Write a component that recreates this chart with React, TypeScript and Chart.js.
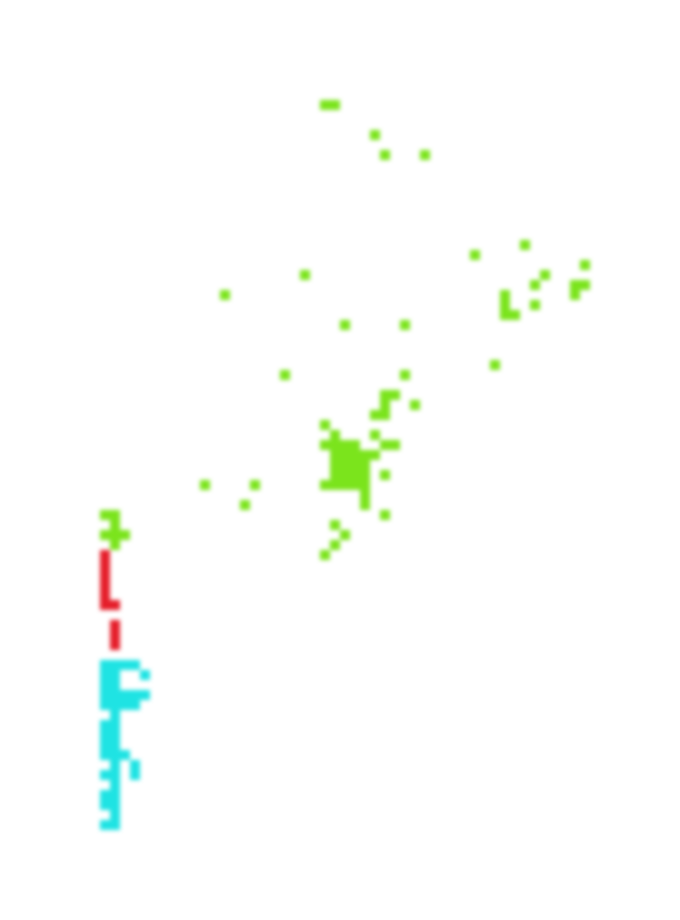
import React, { useEffect, useRef } from "react";
import { Chart, registerables } from "chart.js";

Chart.register(...registerables);

// Grid cells (column, row)
const greenCells: [number, number][] = [
  [32, 10], [33, 10], [37, 13], [38, 15], [42, 15],
  [52, 24], [47, 25], [58, 26], [30, 27], [54, 27], [53, 28], [57, 28], [58, 28],
  [22, 29], [50, 29], [57, 29], [50, 30], [53, 30], [50, 31], [51, 31],
  [34, 32], [40, 32], [49, 36], [28, 37], [40, 37],
  [38, 39], [39, 39], [38, 40], [41, 40], [37, 41], [38, 41],
  [32, 42], [33, 43], [37, 43],
  [32, 44], [33, 44], [34, 44], [35, 44], [38, 44], [39, 44],
  [33, 45], [34, 45], [35, 45], [36, 45], [37, 45],
  [33, 46], [34, 46], [35, 46], [36, 46],
  [33, 47], [34, 47], [35, 47], [36, 47], [38, 47],
  [20, 48], [25, 48], [32, 48], [33, 48], [34, 48], [35, 48], [36, 48],
  [36, 49], [24, 50], [36, 50], [38, 51],
  [33, 52], [34, 53], [33, 54], [32, 55],
  [10, 51], [11, 51], [11, 52], [10, 53], [11, 53], [12, 53], [11, 54],
];

const redCells: [number, number][] = [
  [10, 55], [10, 56], [10, 57], [10, 58], [10, 59], [10, 60], [11, 60],
  [11, 62], [11, 63], [11, 64],
];

const cyanCells: [number, number][] = [
  [10, 66], [11, 66], [12, 66], [13, 66],
  [10, 67], [11, 67], [14, 67],
  [10, 68], [11, 68],
  [10, 69], [11, 69], [12, 69], [13, 69], [14, 69],
  [10, 70], [11, 70], [12, 70], [13, 70],
  [11, 71],
  [10, 72], [11, 72],
  [10, 73], [11, 73],
  [10, 74], [11, 74],
  [10, 75], [11, 75], [12, 75],
  [11, 76], [13, 76],
  [10, 77], [11, 77], [13, 77],
  [11, 78],
  [10, 79], [11, 79],
  [10, 80], [11, 80],
  [11, 81],
  [10, 82], [11, 82],
];

const GRID_COLS = 68;
const GRID_ROWS = 92;

const toPoints = (cells: [number, number][]) => cells.map(([x, y]) => ({ x, y }));

export default function App() {
  const ref = useRef<HTMLCanvasElement | null>(null);

  useEffect(() => {
    document.body.style.margin = "0";
    const canvas = ref.current;
    if (!canvas) return;
    const cell = 680 / GRID_COLS;
    const radius = cell / Math.SQRT2;
    const mk = (label: string, cells: [number, number][], color: string) => ({
      label,
      data: toPoints(cells),
      backgroundColor: color,
      borderWidth: 0,
      pointStyle: "rect" as const,
      pointRadius: radius,
      pointHoverRadius: radius,
    });
    const chart = new Chart(canvas, {
      type: "scatter",
      data: {
        datasets: [
          mk("green", greenCells, "#7be41c"),
          mk("red", redCells, "#e51f2b"),
          mk("cyan", cyanCells, "#1fe3e3"),
        ],
      },
      options: {
        responsive: false,
        animation: false,
        devicePixelRatio: 1,
        layout: { padding: 0, autoPadding: false },
        plugins: { legend: { display: false }, tooltip: { enabled: false } },
        scales: {
          x: { type: "linear", min: -0.5, max: GRID_COLS - 0.5, display: false },
          y: { type: "linear", min: -0.5, max: GRID_ROWS - 0.5, reverse: true, display: false },
        },
      },
    });
    return () => chart.destroy();
  }, []);

  return (
    <div style={{ width: 680, height: 920, background: "#fff" }}>
      <canvas
        ref={ref}
        width={680}
        height={920}
        style={{ display: "block", width: 680, height: 920, filter: "blur(2px)" }}
      />
    </div>
  );
}
